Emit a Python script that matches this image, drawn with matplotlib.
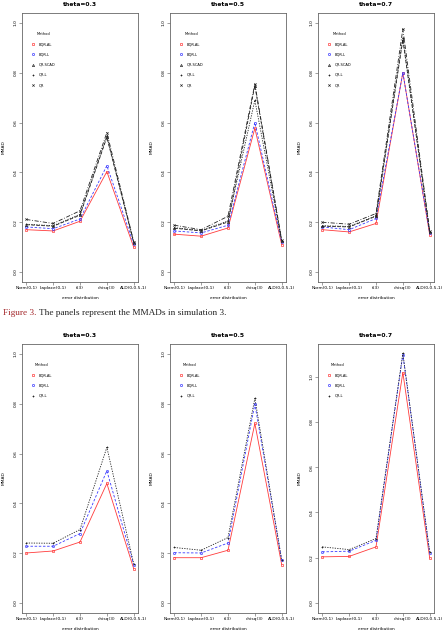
"""MMAD panels for simulation 3 (two rows of theta panels)."""

import matplotlib
matplotlib.use("Agg")
import matplotlib.pyplot as plt
from matplotlib.lines import Line2D

W, H = 444, 633

dists = ["Norm(0,1)", "Laplace(0,1)", "t(3)", "chisq(3)", "ALD(0,0.5,1)"]
thetas = ["theta=0.3", "theta=0.5", "theta=0.7"]

# top row: five methods
top_methods = ["BQR-AL", "BQR-L", "QR-SCAD", "QR-L", "QR"]
top_bqr_al = [
    [0.170, 0.165, 0.204, 0.403, 0.100],
    [0.152, 0.144, 0.177, 0.577, 0.110],
    [0.170, 0.161, 0.195, 0.801, 0.150],
]
top_bqr_l = [
    [0.181, 0.174, 0.213, 0.427, 0.112],
    [0.165, 0.157, 0.188, 0.600, 0.120],
    [0.181, 0.170, 0.215, 0.800, 0.155],
]
top_qr_scad = [
    [0.190, 0.184, 0.228, 0.541, 0.118],
    [0.176, 0.165, 0.201, 0.748, 0.124],
    [0.184, 0.181, 0.224, 0.933, 0.160],
]
top_qr_l = [
    [0.192, 0.186, 0.232, 0.546, 0.120],
    [0.178, 0.167, 0.205, 0.690, 0.126],
    [0.186, 0.183, 0.226, 0.940, 0.162],
]
top_qr = [
    [0.211, 0.195, 0.246, 0.560, 0.122],
    [0.188, 0.170, 0.224, 0.755, 0.128],
    [0.200, 0.192, 0.235, 0.976, 0.165],
]

# bottom row: three methods
bot_methods = ["BQR-AL", "BQR-L", "QR-L"]
bot_bqr_al = [
    [0.201, 0.209, 0.245, 0.480, 0.138],
    [0.182, 0.182, 0.212, 0.721, 0.154],
    [0.204, 0.206, 0.248, 1.018, 0.199],
]
bot_bqr_l = [
    [0.228, 0.228, 0.279, 0.531, 0.154],
    [0.202, 0.201, 0.241, 0.799, 0.172],
    [0.226, 0.229, 0.277, 1.096, 0.221],
]
bot_qr_l = [
    [0.241, 0.240, 0.295, 0.625, 0.158],
    [0.223, 0.212, 0.263, 0.822, 0.172],
    [0.248, 0.236, 0.285, 1.103, 0.226],
]
bot_ytop = [1.0, 1.0, 1.1]

styles = {
    "BQR-AL": dict(color="#ff3b3b", marker="s", ls="-"),
    "BQR-L": dict(color="#3b3bff", marker="o", ls=(0, (3, 2))),
    "QR-SCAD": dict(color="#222222", marker="^", ls=(0, (4, 2))),
    "QR-L": dict(color="#222222", marker="+", ls=(0, (1.5, 1.5))),
    "QR": dict(color="#222222", marker="x", ls=(0, (5, 2, 1, 2))),
}

FS = 3.2
MS = 1.6


def add_panel(fig, left, top, right, bottom, title, series, methods, ytop):
    ax = fig.add_axes([left / W, 1 - bottom / H, (right - left) / W, (bottom - top) / H])
    x = list(range(1, len(dists) + 1))
    for name, vals in zip(methods, series):
        st = styles[name]
        ax.plot(x, vals, color=st["color"], linestyle=st["ls"], linewidth=0.6,
                marker=st["marker"], markersize=MS, markerfacecolor="none",
                markeredgewidth=0.5)
    pad = 0.04 * 4
    ax.set_xlim(1 - pad, 5 + pad)
    ax.set_ylim(-0.04 * ytop, ytop * 1.04)
    ax.set_xticks(x)
    ax.set_xticklabels(dists, fontsize=FS)
    ax.set_yticks([0.0, 0.2, 0.4, 0.6, 0.8, 1.0])
    ax.set_yticklabels(["0.0", "0.2", "0.4", "0.6", "0.8", "1.0"], fontsize=FS,
                       rotation=90, va="center")
    ax.tick_params(length=2, width=0.4, pad=1.2, color="#555555")
    for sp in ax.spines.values():
        sp.set_linewidth(0.6)
        sp.set_color("#666666")
    ax.set_title(title, fontsize=4.3, fontweight="bold", pad=5)
    ax.set_xlabel("error distribution", fontsize=FS, labelpad=4)
    ax.set_ylabel("MMAD", fontsize=FS, labelpad=6)
    handles = [Line2D([], [], color=styles[m]["color"], marker=styles[m]["marker"],
                      linestyle="none", markersize=MS, markerfacecolor="none",
                      markeredgewidth=0.5) for m in methods]
    leg = ax.legend(handles, methods, title="Method", loc="upper left",
                    bbox_to_anchor=(0.05, 0.94), frameon=False, fontsize=2.6,
                    title_fontsize=2.6, labelspacing=1.7, handlelength=1.0,
                    handletextpad=1.2)
    leg._legend_box.align = "center"
    return ax


fig = plt.figure(figsize=(W / 100, H / 100), dpi=100)

lefts = [22, 170, 318]
top_series = list(zip(top_bqr_al, top_bqr_l, top_qr_scad, top_qr_l, top_qr))
for i in range(3):
    add_panel(fig, lefts[i], 13, lefts[i] + 116, 282, thetas[i],
              top_series[i], top_methods, 1.0)

bot_series = list(zip(bot_bqr_al, bot_bqr_l, bot_qr_l))
for i in range(3):
    add_panel(fig, lefts[i], 344, lefts[i] + 116, 613, thetas[i],
              bot_series[i], bot_methods, bot_ytop[i])

cap_y = 1 - 313 / H
fig.text(3 / W, cap_y, "Figure 3.", fontsize=6.7, family="Liberation Serif",
         color="#a3262a", va="center")
fig.text(39 / W, cap_y, "The panels represent the MMADs in simulation 3.",
         fontsize=6.7, family="Liberation Serif", color="#222222", va="center")

fig.savefig("out.png", dpi=100)
